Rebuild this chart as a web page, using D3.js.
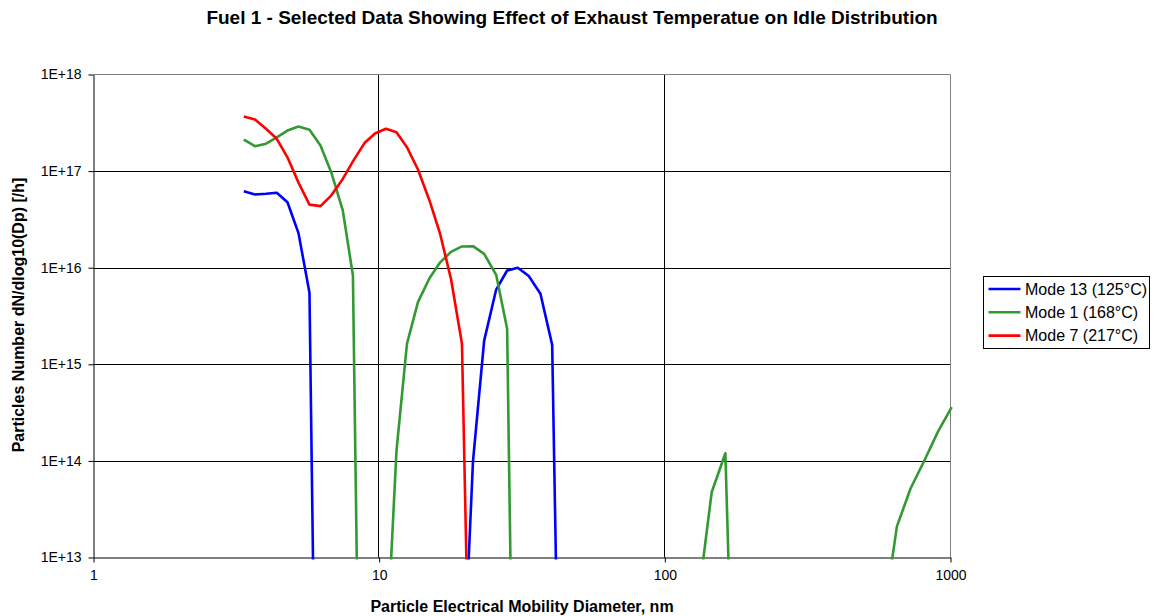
<!DOCTYPE html>
<html>
<head>
<meta charset="utf-8">
<script src="https://cdn.jsdelivr.net/npm/d3@7/dist/d3.min.js"></script>
<style>
  html, body { margin: 0; padding: 0; background: #ffffff; }
  svg { display: block; font-family: "Liberation Sans", Arial, sans-serif; }
</style>
</head>
<body>
<svg id="chart" width="1154" height="616"></svg>
<script>
// Particle size channels (nm)
const diameters = [3.358, 3.675, 4.017, 4.381, 4.775, 5.219, 5.702, 6.231, 6.792, 7.459,
  8.093, 8.882, 9.667, 10.56, 11.50, 12.51, 13.67, 15.00, 16.33, 17.84,
  19.49, 21.30, 23.31, 25.68, 28.05, 30.56, 33.39, 36.69, 40.33, 44.17,
  130.7, 145.9, 162.9, 182.0, 581.4, 649.3, 724.8, 810.2, 904.0, 1009.8];

// dN/dlog10(Dp) per hour; null = no reading for that channel
const mode13 = [6.19e16, 5.73e16, 5.82e16, 5.96e16, 4.76e16, 2.28e16, 5.5e15, 1.3e7, null, null,
  null, null, null, null, null, null, null, null, null, null,
  2.5e11, 9.9e13, 1.76e15, 5.94e15, 9.35e15, 9.97e15, 8.2e15, 5.37e15, 1.59e15, 3e8,
  null, null, null, null, null, null, null, null, null, null];

const mode1 = [2.12e17, 1.81e17, 1.92e17, 2.24e17, 2.63e17, 2.90e17, 2.68e17, 1.84e17, 9.75e16, 3.91e16,
  8.3e15, 1.4e7, null, 8e11, 1.28e14, 1.63e15, 4.4e15, 7.78e15, 1.13e16, 1.46e16,
  1.66e16, 1.67e16, 1.39e16, 8.43e15, 2.33e15, 5e7, null, null, null, null,
  3.6e12, 4.74e13, 1.2e14, 1.5e9, 2.2e12, 2.1e13, 5.18e13, 1.01e14, 2.01e14, 3.61e14];

const mode7 = [3.67e17, 3.42e17, 2.74e17, 2.16e17, 1.39e17, 7.6e16, 4.5e16, 4.34e16, 5.58e16, 8.3e16,
  1.26e17, 1.95e17, 2.45e17, 2.74e17, 2.53e17, 1.77e17, 1.04e17, 4.97e16, 2.26e16, 7.67e15,
  1.63e15, 4.8e9, null, null, null, null, null, null, null, null,
  null, null, null, null, null, null, null, null, null, null];

const seriesNames = ["Mode 13 (125°C)", "Mode 1 (168°C)", "Mode 7 (217°C)"];
const seriesColors = ["#0000ff", "#339933", "#ff0000"];

const xTicks = [1, 10, 100, 1000];
const xTickLabels = ["1", "10", "100", "1000"];
const yTicks = [1e13, 1e14, 1e15, 1e16, 1e17, 1e18];
const yTickLabels = ["1E+13", "1E+14", "1E+15", "1E+16", "1E+17", "1E+18"];

const titleText = "Fuel 1 - Selected Data Showing Effect of Exhaust Temperatue on Idle Distribution";
const xTitle = "Particle Electrical Mobility Diameter, nm";
const yTitle = "Particles Number dN/dlog10(Dp) [/h]";

const svg = d3.select("#chart");
const plotL = 93.5, plotR = 950.5, plotT = 74.5, plotB = 557.5;

const x = d3.scaleLog().domain([1, 1000]).range([plotL, plotR]);
const y = d3.scaleLog().domain([1e13, 1e18]).range([plotB, plotT]);

// gridlines
const grid = svg.append("g");
grid.selectAll("line.h").data(yTicks.slice(1, -1)).join("line")
  .attr("x1", plotL).attr("x2", plotR)
  .attr("y1", d => Math.round(y(d)) + 0.5).attr("y2", d => Math.round(y(d)) + 0.5)
  .attr("stroke", "#000").attr("stroke-width", 1);
grid.selectAll("line.v").data(xTicks.slice(1, -1)).join("line")
  .attr("y1", plotT).attr("y2", plotB)
  .attr("x1", d => Math.round(x(d)) - 0.5).attr("x2", d => Math.round(x(d)) - 0.5)
  .attr("stroke", "#000").attr("stroke-width", 1);

// plot-area frame (top & right)
svg.append("path")
  .attr("d", `M${plotL},${plotT}H${plotR}V${plotB}`)
  .attr("fill", "none").attr("stroke", "#808080").attr("stroke-width", 1);

// axes
const yAxis = d3.axisLeft(y).tickValues(yTicks)
  .tickFormat((d, i) => yTickLabels[i]).tickSizeInner(5).tickSizeOuter(0).tickPadding(7);
const gy = svg.append("g").attr("transform", `translate(${plotL},0)`).call(yAxis);
const xAxis = d3.axisBottom(x).tickValues(xTicks)
  .tickFormat((d, i) => xTickLabels[i]).tickSizeInner(5).tickSizeOuter(0).tickPadding(8);
const gx = svg.append("g").attr("transform", `translate(0,${plotB})`).call(xAxis);
[gx, gy].forEach(g => {
  g.select(".domain").attr("stroke", "#000");
  g.selectAll(".tick line").attr("stroke", "#000");
  g.selectAll(".tick text").attr("fill", "#000")
    .style("font-family", '"Liberation Sans", Arial, sans-serif').style("font-size", "14px");
});

// series lines, clipped to the plot area
svg.append("clipPath").attr("id", "plotClip").append("rect")
  .attr("x", plotL - 3).attr("y", plotT - 3).attr("width", plotR - plotL + 6).attr("height", plotB - plotT + 5);

const line = d3.line()
  .defined(d => d[1] != null)
  .x(d => x(d[0])).y(d => y(d[1]));

const allSeries = [mode13, mode1, mode7];
const plot = svg.append("g").attr("clip-path", "url(#plotClip)");
allSeries.forEach((vals, i) => {
  plot.append("path")
    .datum(diameters.map((dm, j) => [dm, vals[j]]))
    .attr("d", line)
    .attr("fill", "none")
    .attr("stroke", seriesColors[i])
    .attr("stroke-width", 2.6)
    .attr("stroke-linejoin", "round");
});

// titles
svg.append("text").attr("x", 572).attr("y", 24).attr("text-anchor", "middle")
  .style("font-size", "19px").style("font-weight", "bold").text(titleText);
svg.append("text").attr("x", 522).attr("y", 612).attr("text-anchor", "middle")
  .style("font-size", "16px").style("font-weight", "bold").text(xTitle);
svg.append("text").attr("transform", "translate(24,315) rotate(-90)").attr("text-anchor", "middle")
  .style("font-size", "16px").style("font-weight", "bold").text(yTitle);

// legend
const lg = svg.append("g").attr("transform", "translate(983.5,276.5)");
lg.append("rect").attr("width", 166).attr("height", 72)
  .attr("fill", "#fff").attr("stroke", "#000").attr("stroke-width", 1);
seriesNames.forEach((name, i) => {
  const yy = 12.5 + i * 23.3;
  lg.append("line").attr("x1", 5).attr("x2", 37).attr("y1", yy).attr("y2", yy)
    .attr("stroke", seriesColors[i]).attr("stroke-width", 2.6);
  lg.append("text").attr("x", 41.5).attr("y", yy + 5.5)
    .style("font-size", "16px").text(name);
});
</script>
</body>
</html>
